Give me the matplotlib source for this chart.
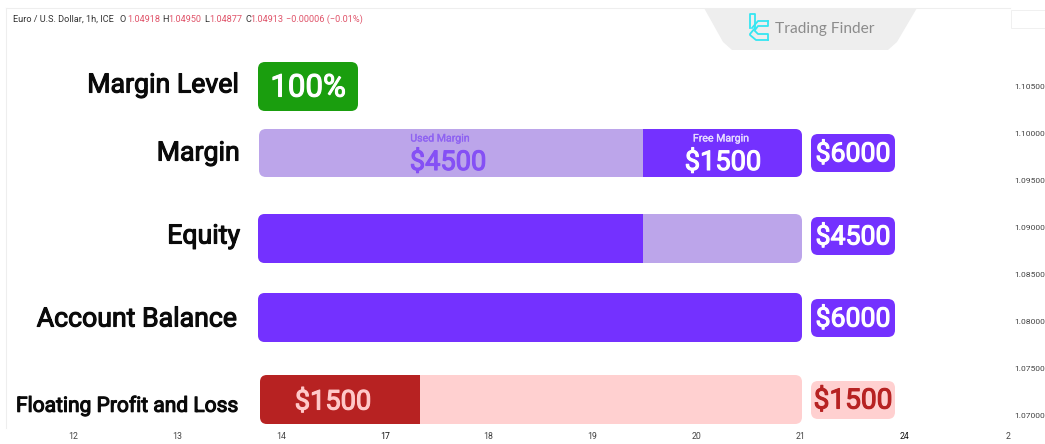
import matplotlib
matplotlib.use('Agg')
import matplotlib.pyplot as plt
import matplotlib.patheffects as pe
from matplotlib.patches import FancyBboxPatch, Rectangle, Polygon

plt.rcParams['font.family'] = ['Roboto', 'DejaVu Sans']

# Values
hour_labels = ['12', '13', '14', '17', '18', '19', '20', '21', '24', '2']
price_ticks = [1.105, 1.10, 1.095, 1.09, 1.085, 1.08, 1.075, 1.07]
row_names = ['Margin', 'Equity', 'Account Balance', 'Floating Profit and Loss']
row_totals = ['$6000', '$4500', '$6000', '$1500']
dark_share = [0.708, 0.708, 1.0, 0.295]  # share of the bar in the stronger colour
margin_level = '100%'
used_margin = '$4500'
free_margin = '$1500'
floating_loss = '$1500'

PURPLE = '#7431ff'
LILAC = '#bca5ea'
DARK_RED = '#b72222'
PINK = '#ffd0d0'
GREEN = '#1a9e0e'
QUOTE_RED = '#e0556b'

W, H = 1045, 444
fig = plt.figure(figsize=(W / 100, H / 100), dpi=100, facecolor='white')

# price chart frame underneath
left, right, top, bottom = 6, 1010, 8, 428
chart = fig.add_axes([left / W, 1 - bottom / H, (right - left) / W, (bottom - top) / H])
chart.set_xlim(-0.645, 9.018)
chart.set_ylim(1.06872, 1.1134)
chart.set_xticks(range(len(hour_labels)))
chart.set_xticklabels(hour_labels)
chart.set_yticks(price_ticks)
chart.set_yticklabels(['%.5f' % p for p in price_ticks])
chart.yaxis.tick_right()
chart.tick_params(axis='x', length=0, pad=3, labelsize=6.3, labelcolor='#444444')
chart.tick_params(axis='y', length=0, pad=3, labelsize=6.1, labelcolor='#444444')
# the day labels are darker on the original
for lab in chart.get_xticklabels():
    if lab.get_text() in ('17', '24'):
        lab.set_color('#111111')
for s in ['right', 'bottom']:
    chart.spines[s].set_visible(False)
for s in ['left', 'top']:
    chart.spines[s].set_color('#eeeeee')
    chart.spines[s].set_linewidth(0.8)

# overlay in pixel coordinates for the infographic
ax = fig.add_axes([0, 0, 1, 1], zorder=3)
ax.set_xlim(0, W)
ax.set_ylim(H, 0)
ax.axis('off')


def box(x0, y0, x1, y1, color, r=7, clip_to=None):
    p = FancyBboxPatch((x0, y0), x1 - x0, y1 - y0, boxstyle='round,pad=0,rounding_size=%s' % r,
                       facecolor=color, edgecolor='none')
    ax.add_patch(p)
    if clip_to is not None:
        clip = Rectangle((clip_to[0], y0 - 2), clip_to[1] - clip_to[0], y1 - y0 + 4, transform=ax.transData)
        p.set_clip_path(clip)
    return p


# the medium weight is not there, so thicken the regular one a little
def heavy(x, y, s, size, color, ha='center', stroke=0.8):
    t = ax.text(x, y, s, fontsize=size, color=color, va='center', ha=ha)
    t.set_path_effects([pe.withStroke(linewidth=stroke, foreground=color)])
    return t


# header quote line
header = [(13, 'Euro / U.S. Dollar, 1h, ICE', '#333333'), (120, 'O', '#333333'), (127, '1.04918', QUOTE_RED),
          (162, 'H', '#333333'), (168, '1.04950', QUOTE_RED), (204, 'L', '#333333'), (209, '1.04877', QUOTE_RED),
          (245, 'C', '#333333'), (250, '1.04913', QUOTE_RED), (286, '\u22120.00006 (\u22120.01%)', QUOTE_RED)]
for x, s, c in header:
    ax.text(x, 19, s, fontsize=6.6, color=c, va='center', ha='left')

# logo tab
ax.add_patch(Polygon([(704, 8), (917, 8), (897, 42), (888, 50), (732, 50), (723, 42)], closed=True,
                     facecolor='#eeeeee', edgecolor='none'))
ax.plot([750, 750, 755, 755, 750, 750, 756, 768], [28, 14, 14, 28, 34, 35, 40, 40], color='#35e6f2', lw=1.3)
ax.plot([768, 758, 752], [21, 21, 28], color='#35e6f2', lw=1.3)
ax.plot([768, 768, 758, 755], [21, 26, 26, 30], color='#35e6f2', lw=1.3)
ax.plot([768, 768, 758, 755], [40, 34, 34, 31], color='#35e6f2', lw=1.3)
ax.text(775, 29.5, 'Trading Finder', fontsize=11.2, color='#8c8c8c', va='center', ha='left', family='Lato')
ax.add_patch(Rectangle((1011, 10), 40, 18, facecolor='white', edgecolor='#f0f0f0', lw=0.7))

# margin level row
heavy(239, 85, 'Margin Level', 19.2, '#0a0a0a', ha='right')
box(258, 62, 358, 111, GREEN)
heavy(308, 88, margin_level, 22.5, 'white')

# bars
bar_x0 = [259, 258, 258, 260]
bar_y0 = [129, 214, 293, 375]
bar_y1 = [177, 263, 342, 424]
bar_x1 = 802
label_right = [240, 240, 237, 239]
label_y = [153, 236, 319, 406]
label_size = [19.2, 19.2, 19.2, 15.1]
badge_y0 = [134, 217, 299, 381]
badge_y1 = [172, 255, 337, 419]
badge_size = [19.2, 19.2, 19.2, 20.2]
strong = [PURPLE, PURPLE, PURPLE, DARK_RED]
weak = [LILAC, LILAC, LILAC, PINK]

for i, name in enumerate(row_names):
    split = bar_x0[i] + dark_share[i] * (bar_x1 - bar_x0[i])
    heavy(label_right[i], label_y[i], name, label_size[i], '#0a0a0a', ha='right')
    # the margin bar has its strong part on the right, the others on the left
    if i == 0:
        box(bar_x0[i], bar_y0[i], bar_x1, bar_y1[i], weak[i])
        box(bar_x0[i], bar_y0[i], bar_x1, bar_y1[i], strong[i], clip_to=(split, bar_x1 + 1))
    else:
        box(bar_x0[i], bar_y0[i], bar_x1, bar_y1[i], weak[i])
        box(bar_x0[i], bar_y0[i], bar_x1, bar_y1[i], strong[i], clip_to=(bar_x0[i] - 1, split))
    box(811, badge_y0[i], 895, badge_y1[i], weak[i] if i == 3 else strong[i])
    heavy(853, (badge_y0[i] + badge_y1[i]) / 2 + 1, row_totals[i], badge_size[i], DARK_RED if i == 3 else 'white')

# text on the bars
heavy(440, 138.5, 'Used Margin', 7.6, '#8f63f2', stroke=0.2)
heavy(448, 162.5, used_margin, 19.6, '#8550f5')
heavy(721, 138.5, 'Free Margin', 7.6, '#e6dcff', stroke=0.2)
heavy(723, 162.5, free_margin, 19.6, 'white')
heavy(333, 402, floating_loss, 19.6, '#ffc9c9')

fig.savefig('out.png', dpi=100)
